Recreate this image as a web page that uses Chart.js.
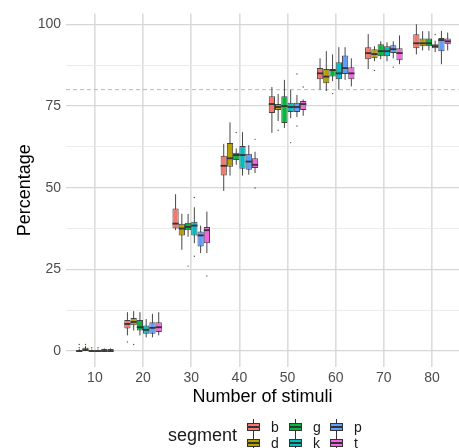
<!DOCTYPE html>
<html>
<head>
<meta charset="utf-8">
<script src="https://cdn.jsdelivr.net/npm/chart.js@4"></script>
<style>
  body { margin: 0; background: #fff; }
  #wrap { position: relative; width: 459px; height: 448px; overflow: hidden; }
  #legend { position: absolute; left: 0; top: 0; width: 459px; height: 448px; pointer-events: none;
            font-family: "Liberation Sans", Arial, sans-serif; color: #1a1a1a; }
  .lt { position: absolute; font-size: 18px; line-height: 20px; }
  .ll { position: absolute; font-size: 14px; line-height: 16px; }
  .key { position: absolute; width: 13px; height: 16px; }
</style>
</head>
<body>
<div id="wrap">
  <canvas id="plot" width="459" height="448"></canvas>
  <div id="legend"></div>
</div>
<script>
// categories
const stimuli = [10, 20, 30, 40, 50, 60, 70, 80];
const segments = ['b', 'd', 'g', 'k', 'p', 't'];
const colors = ['#F8766D', '#B79F00', '#00BA38', '#00BFC4', '#619CFF', '#F564E3'];
const yTicks = [0, 12.5, 25, 37.5, 50, 62.5, 75, 87.5, 100];
const refLine = 80;

// box stats per stimulus: [lower whisker, q1, median, q3, upper whisker]
const boxB = [[0,0,0,0.3,0.6],[4.8,6.9,8.3,9.5,11.9],[37,37.5,39,43.6,48],[49,53.7,56.7,59.8,63.4],
              [66.8,72.9,75.6,78,80.8],[80,83.2,85,86.6,89.6],[86.3,89.3,91.2,93,97],[90.8,92.7,94.2,97,100]];
const boxD = [[0,0,0.3,1,1.5],[6.3,7.9,8.9,10.1,12.2],[31,35.4,37.5,39,42],[53.7,56.4,59,63.7,70],
              [70.4,73.8,74.7,75.6,78.7],[79.6,82,84,86.3,91.8],[88.7,89.6,90.9,92.4,93.3],[92,93.3,94.2,95.7,97.9]];
const boxG = [[0,0,0,0.3,0.5],[4.8,6.3,7.3,9.5,11.9],[35,37,38,39.3,42],[57,58.5,60,60.7,62],
              [68.3,69.8,75,78,83],[82.6,84,86,86.3,90.8],[89.3,90.2,91.8,93.9,94.8],[92,93.3,94.2,95.7,97.9]];
const boxK = [[0,0,0,0.3,0.5],[4.2,5.3,6.5,7.8,9.8],[33,35.4,38.4,39.6,44],[53.7,55.8,60,62.8,67],
              [71.3,73.2,74.7,76,80],[80,83.2,85,88.4,93],[88.7,90.2,91.8,93.3,94.5],[91.5,92.7,93.3,93.9,95]];
const boxP = [[0,0,0,0.6,0.8],[4.2,5.3,7.1,8.8,11.4],[30,32,35.4,36.6,38.4],[54,55.5,58,60.4,63],
              [71.6,73.2,74.7,76,78.4],[83,84.8,86.6,90.5,93],[89.6,91.2,92.4,93.6,94.8],[87.8,91.8,95.2,95.8,98]];
const boxT = [[0,0,0,0.6,0.8],[4.8,5.8,7.3,8.8,11.9],[30,33,37,38,42.7],[54.5,56,57,59,61],
              [72,73.8,75.6,76.5,77],[81,83.2,85,86.9,89.6],[87.8,89,91.2,92.7,96.6],[92,93.9,94.8,95.7,97.5]];

// outliers: [stimulus, value]
const outB = [[10,2],[10,1],[20,2.8]];
const outD = [[10,2],[10,1],[20,2],[50,67.6],[70,85.9]];
const outG = [[10,1],[30,26],[40,66.9],[60,78.8]];
const outK = [[10,1],[30,47],[30,29],[50,63.8],[80,96.9]];
const outP = [[50,84.8],[50,68.9],[70,86.9]];
const outT = [[30,23],[40,64.8],[40,49.9],[50,80.8]];

const boxes = [boxB, boxD, boxG, boxK, boxP, boxT];
const outliers = [outB, outD, outG, outK, outP, outT];

const FONT = '"Liberation Sans", Arial, sans-serif';
const ink = 'rgba(51,51,51,0.9)';

const datasets = segments.map((s, i) => ({
    label: s,
    data: boxes[i].map((r, j) => ({x: stimuli[j], y: [r[1], r[3]], stats: r})),
    backgroundColor: colors[i],
    borderColor: ink,
    borderWidth: 1,
    borderSkipped: false,
    categoryPercentage: 0.78,
    barPercentage: 1
}));

const boxParts = {
    id: 'boxParts',
    beforeDatasetsDraw(chart) {
        const {ctx, chartArea, scales: {y}} = chart;
        ctx.save();
        // reference line
        ctx.strokeStyle = '#a6a6a6';
        ctx.lineWidth = 0.8;
        ctx.setLineDash([4, 3]);
        ctx.beginPath();
        ctx.moveTo(chartArea.left, y.getPixelForValue(refLine));
        ctx.lineTo(chartArea.right, y.getPixelForValue(refLine));
        ctx.stroke();
        ctx.setLineDash([]);
        // whiskers
        ctx.strokeStyle = ink;
        ctx.lineWidth = 1;
        chart.data.datasets.forEach((ds, i) => {
            chart.getDatasetMeta(i).data.forEach((bar, j) => {
                const r = ds.data[j].stats;
                ctx.beginPath();
                ctx.moveTo(bar.x, y.getPixelForValue(r[0]));
                ctx.lineTo(bar.x, y.getPixelForValue(r[4]));
                ctx.stroke();
            });
        });
        ctx.restore();
    },
    afterDatasetsDraw(chart) {
        const {ctx, scales: {y}} = chart;
        ctx.save();
        chart.data.datasets.forEach((ds, i) => {
            const bars = chart.getDatasetMeta(i).data;
            bars.forEach((bar, j) => {
                const r = ds.data[j].stats;
                const py = y.getPixelForValue(r[2]);
                ctx.strokeStyle = '#333333';
                ctx.lineWidth = 1.8;
                ctx.beginPath();
                ctx.moveTo(bar.x - bar.width / 2, py);
                ctx.lineTo(bar.x + bar.width / 2, py);
                ctx.stroke();
            });
            // outliers sit on the box centre of their stimulus
            ctx.fillStyle = 'rgba(51,51,51,0.85)';
            outliers[i].forEach(o => {
                const bar = bars[stimuli.indexOf(o[0])];
                ctx.beginPath();
                ctx.arc(bar.x, y.getPixelForValue(o[1]), 0.7, 0, Math.PI * 2);
                ctx.fill();
            });
        });
        ctx.restore();
    }
};

new Chart(document.getElementById('plot').getContext('2d'), {
    type: 'bar',
    data: {datasets: datasets},
    options: {
        responsive: false,
        animation: false,
        devicePixelRatio: 1,
        layout: {padding: {top: 7, bottom: 40, left: 0, right: 0}},
        plugins: {legend: {display: false}, tooltip: {enabled: false}},
        scales: {
            x: {
                type: 'linear',
                offset: false,
                min: 4,
                max: 85.6,
                afterBuildTicks: (scale) => { scale.ticks = stimuli.map(v => ({value: v})); },
                afterFit: (scale) => { scale.height = 41; },
                grid: {color: '#dcdcdc', lineWidth: 1.6, drawTicks: false, offset: false},
                border: {display: false},
                ticks: {color: '#4d4d4d', font: {family: FONT, size: 14}, padding: 3,
                        autoSkip: false, maxRotation: 0, callback: (v) => String(v)},
                title: {display: true, text: 'Number of stimuli', color: '#000',
                        font: {family: FONT, size: 18}, padding: {top: 0, bottom: 0}}
            },
            y: {
                min: -4.88,
                max: 103.35,
                afterBuildTicks: (scale) => { scale.ticks = yTicks.map(v => ({value: v})); },
                afterFit: (scale) => { scale.width = 66; },
                grid: {
                    color: (c) => (c.tick && c.tick.value % 25 === 0) ? '#d6d6d6' : '#e6e6e6',
                    lineWidth: (c) => (c.tick && c.tick.value % 25 === 0) ? 1.3 : 0.8,
                    drawTicks: false
                },
                border: {display: false},
                ticks: {color: '#4d4d4d', font: {family: FONT, size: 14}, padding: 5,
                        callback: (v) => (v % 25 === 0 ? String(v) : '')},
                title: {display: true, text: 'Percentage', color: '#000',
                        font: {family: FONT, size: 18}, padding: {top: 14, bottom: 0}}
            }
        }
    },
    plugins: [boxParts]
});

// legend below the plot, 2 rows x 3 columns like the original
const legend = document.getElementById('legend');
const title = document.createElement('div');
title.className = 'lt';
title.style.left = '168px';
title.style.top = '425px';
title.textContent = 'segment';
legend.appendChild(title);

const keyCols = [247, 289, 330];
const keyRows = [419, 435];
segments.forEach((s, i) => {
    const col = Math.floor(i / 2), row = i % 2;
    const key = document.createElement('div');
    key.className = 'key';
    key.style.left = keyCols[col] + 'px';
    key.style.top = keyRows[row] + 'px';
    key.innerHTML =
        '<div style="position:absolute;left:6px;top:0;width:1px;height:16px;background:#333"></div>' +
        '<div style="position:absolute;left:0;top:4px;width:13px;height:8px;box-sizing:border-box;border:1px solid #333;background:' + colors[i] + '"></div>' +
        '<div style="position:absolute;left:0;top:7px;width:13px;height:2px;background:#333"></div>';
    legend.appendChild(key);
    const lab = document.createElement('div');
    lab.className = 'll';
    lab.style.left = (keyCols[col] + 24) + 'px';
    lab.style.top = (keyRows[row]) + 'px';
    lab.textContent = s;
    legend.appendChild(lab);
});
</script>
</body>
</html>
